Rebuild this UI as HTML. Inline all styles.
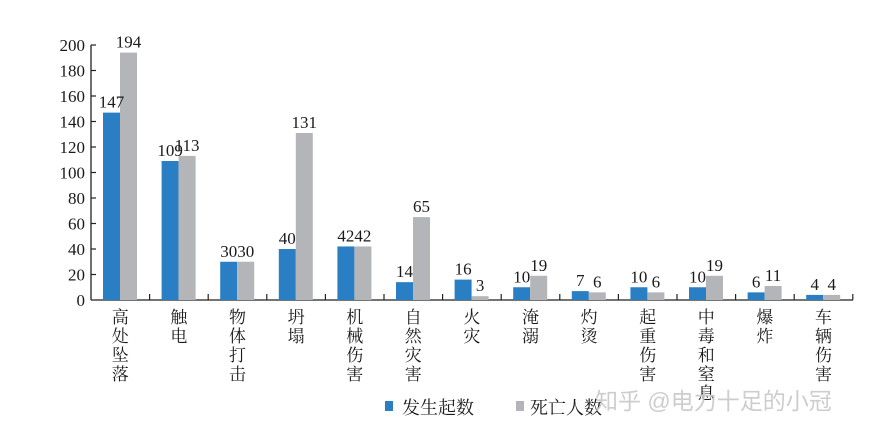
<!DOCTYPE html>
<html><head><meta charset="utf-8"><style>
body{margin:0;background:#fff;}
svg{display:block}
text{font-family:"Liberation Serif","Noto Serif CJK SC",serif;fill:#1a1a1a}
.b{fill:#2a7fc4}.g{fill:#b4b5b8}
</style></head><body>
<svg width="873" height="434" viewBox="0 0 873 434" xmlns="http://www.w3.org/2000/svg">
<line x1="91" y1="45" x2="91" y2="300" stroke="#222" stroke-width="1.3"/>
<line x1="91" y1="300" x2="853" y2="300" stroke="#222" stroke-width="1.3"/>
<g font-size="17" text-anchor="end">
<text x="85" y="306">0</text><text x="85" y="280.5">20</text><text x="85" y="255">40</text><text x="85" y="229.5">60</text><text x="85" y="204">80</text><text x="85" y="178.5">100</text><text x="85" y="153">120</text><text x="85" y="127.5">140</text><text x="85" y="102">160</text><text x="85" y="76.5">180</text><text x="85" y="51">200</text>
</g>
<g stroke="#222" stroke-width="1.2">
<line x1="91" y1="45" x2="96" y2="45"/><line x1="91" y1="70.5" x2="96" y2="70.5"/><line x1="91" y1="96" x2="96" y2="96"/><line x1="91" y1="121.5" x2="96" y2="121.5"/><line x1="91" y1="147" x2="96" y2="147"/><line x1="91" y1="172.5" x2="96" y2="172.5"/><line x1="91" y1="198" x2="96" y2="198"/><line x1="91" y1="223.5" x2="96" y2="223.5"/><line x1="91" y1="249" x2="96" y2="249"/><line x1="91" y1="274.5" x2="96" y2="274.5"/>
<line x1="149.6" y1="300" x2="149.6" y2="294"/><line x1="208.2" y1="300" x2="208.2" y2="294"/><line x1="266.8" y1="300" x2="266.8" y2="294"/><line x1="325.4" y1="300" x2="325.4" y2="294"/><line x1="384" y1="300" x2="384" y2="294"/><line x1="442.6" y1="300" x2="442.6" y2="294"/><line x1="501.2" y1="300" x2="501.2" y2="294"/><line x1="559.8" y1="300" x2="559.8" y2="294"/><line x1="618.4" y1="300" x2="618.4" y2="294"/><line x1="677" y1="300" x2="677" y2="294"/><line x1="735.6" y1="300" x2="735.6" y2="294"/><line x1="794.2" y1="300" x2="794.2" y2="294"/><line x1="852.8" y1="300" x2="852.8" y2="294"/>
</g>
<!-- bars -->
<rect class="b" x="103" y="112.6" width="17" height="187.4"/><rect class="g" x="120" y="52.6" width="17" height="247.4"/>
<rect class="b" x="161.6" y="161" width="17" height="139"/><rect class="g" x="178.6" y="155.9" width="17" height="144.1"/>
<rect class="b" x="220.2" y="261.75" width="17" height="38.25"/><rect class="g" x="237.2" y="261.75" width="17" height="38.25"/>
<rect class="b" x="278.8" y="249" width="17" height="51"/><rect class="g" x="295.8" y="133" width="17" height="167"/>
<rect class="b" x="337.4" y="246.45" width="17" height="53.55"/><rect class="g" x="354.4" y="246.45" width="17" height="53.55"/>
<rect class="b" x="396" y="282.15" width="17" height="17.85"/><rect class="g" x="413" y="217.1" width="17" height="82.9"/>
<rect class="b" x="454.6" y="279.6" width="17" height="20.4"/><rect class="g" x="471.6" y="296.2" width="17" height="3.8"/>
<rect class="b" x="513.2" y="287.25" width="17" height="12.75"/><rect class="g" x="530.2" y="275.8" width="17" height="24.2"/>
<rect class="b" x="571.8" y="291.1" width="17" height="8.9"/><rect class="g" x="588.8" y="292.35" width="17" height="7.65"/>
<rect class="b" x="630.4" y="287.25" width="17" height="12.75"/><rect class="g" x="647.4" y="292.35" width="17" height="7.65"/>
<rect class="b" x="689" y="287.25" width="17" height="12.75"/><rect class="g" x="706" y="275.8" width="17" height="24.2"/>
<rect class="b" x="747.6" y="292.35" width="17" height="7.65"/><rect class="g" x="764.6" y="286" width="17" height="14"/>
<rect class="b" x="806.2" y="294.9" width="17" height="5.1"/><rect class="g" x="823.2" y="294.9" width="17" height="5.1"/>
<!-- value labels -->
<g font-size="17" text-anchor="middle">
<text x="111.5" y="107.6">147</text><text x="128.5" y="47.6">194</text>
<text x="170.1" y="156">109</text><text x="187.1" y="150.9">113</text>
<text x="228.7" y="256.75">30</text><text x="245.7" y="256.75">30</text>
<text x="287.3" y="244">40</text><text x="304.3" y="128">131</text>
<text x="345.9" y="241.45">42</text><text x="362.9" y="241.45">42</text>
<text x="404.5" y="277.15">14</text><text x="421.5" y="212.1">65</text>
<text x="463.1" y="274.6">16</text><text x="480.1" y="291.2">3</text>
<text x="521.7" y="282.25">10</text><text x="538.7" y="270.8">19</text>
<text x="580.3" y="286.1">7</text><text x="597.3" y="287.35">6</text>
<text x="638.9" y="282.25">10</text><text x="655.9" y="287.35">6</text>
<text x="697.5" y="282.25">10</text><text x="714.5" y="270.8">19</text>
<text x="756.1" y="287.35">6</text><text x="773.1" y="281">11</text>
<text x="814.7" y="289.9">4</text><text x="831.7" y="289.9">4</text>
</g>
<!-- category labels -->
<g font-size="17" text-anchor="middle">
<text x="120.3" y="323">高</text><text x="120.3" y="342">处</text><text x="120.3" y="361">坠</text><text x="120.3" y="380">落</text>
<text x="178.9" y="323">触</text><text x="178.9" y="342">电</text>
<text x="237.5" y="323">物</text><text x="237.5" y="342">体</text><text x="237.5" y="361">打</text><text x="237.5" y="380">击</text>
<text x="296.1" y="323">坍</text><text x="296.1" y="342">塌</text>
<text x="354.7" y="323">机</text><text x="354.7" y="342">械</text><text x="354.7" y="361">伤</text><text x="354.7" y="380">害</text>
<text x="413.3" y="323">自</text><text x="413.3" y="342">然</text><text x="413.3" y="361">灾</text><text x="413.3" y="380">害</text>
<text x="471.9" y="323">火</text><text x="471.9" y="342">灾</text>
<text x="530.5" y="323">淹</text><text x="530.5" y="342">溺</text>
<text x="589.1" y="323">灼</text><text x="589.1" y="342">烫</text>
<text x="647.7" y="323">起</text><text x="647.7" y="342">重</text><text x="647.7" y="361">伤</text><text x="647.7" y="380">害</text>
<text x="706.3" y="323">中</text><text x="706.3" y="342">毒</text><text x="706.3" y="361">和</text><text x="706.3" y="380">窒</text><text x="706.3" y="399">息</text>
<text x="764.9" y="323">爆</text><text x="764.9" y="342">炸</text>
<text x="823.5" y="323">车</text><text x="823.5" y="342">辆</text><text x="823.5" y="361">伤</text><text x="823.5" y="380">害</text>
</g>
<g font-size="18">
<rect x="385" y="401" width="8" height="10" fill="#2a7fc4"/>
<text x="402" y="414">发生起数</text>
<rect x="516" y="401" width="8" height="10" fill="#b4b5b8"/>
<text x="530" y="414">死亡人数</text>
</g>
<text x="595" y="409" font-size="23" style="fill:#c8c8c8;font-family:'Liberation Sans','Noto Sans CJK SC',sans-serif;opacity:0.9">知乎 @电力十足的小冠</text>
</svg>
</body></html>
